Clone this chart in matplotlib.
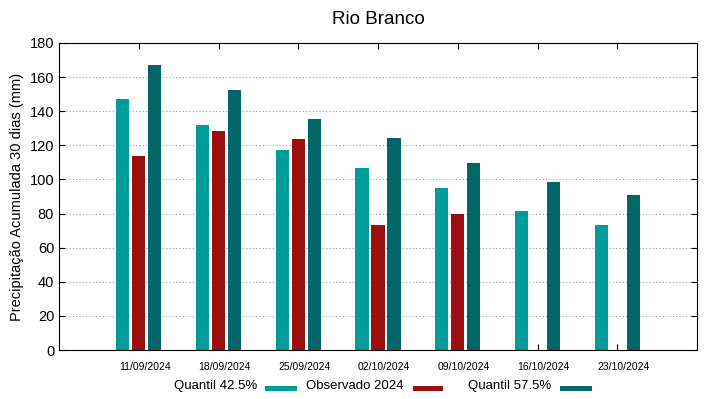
import numpy as np
import matplotlib
matplotlib.use("Agg")
import matplotlib.pyplot as plt
from matplotlib.patches import Rectangle
from matplotlib.transforms import ScaledTranslation

plt.rcParams['font.family'] = ['Liberation Sans', 'DejaVu Sans']

datas = ["11/09/2024", "18/09/2024", "25/09/2024", "02/10/2024",
         "09/10/2024", "16/10/2024", "23/10/2024"]
q425 = [147, 132, 117, 107, 95, 81.5, 73]
obs2024 = [114, 128.5, 123.5, 73.5, 79.5, np.nan, np.nan]
q575 = [167, 152.5, 135.5, 124.5, 109.5, 98.5, 91]

nomes = ['Quantil 42.5%', 'Observado 2024', 'Quantil 57.5%']
cores = ['#009b9b', '#9b0f0f', '#006666']

W, H = 719, 399
fig = plt.figure(figsize=(W / 100, H / 100), dpi=100)
ax = fig.add_axes([59 / W, 1 - 350 / H, 638 / W, 307 / H])

x = np.arange(len(datas))
w = 0.165
for k, (serie, cor) in enumerate(zip([q425, obs2024, q575], cores)):
    ax.bar(x + (k - 1) * 0.2, serie, w, color=cor)

ax.set_xlim(-1, 7)
ax.set_ylim(0, 180)
ax.set_yticks(range(0, 181, 20))
ax.set_xticks(x)
ax.set_xticklabels([])
# rótulos das datas um pouco deslocados para a direita, como no gnuplot
desloc = ScaledTranslation(6 / 100, -17 / 100, fig.dpi_scale_trans)
for xi, d in zip(x, datas):
    ax.text(xi, 0, d, transform=ax.get_xaxis_transform() + desloc,
            ha='center', va='center', fontsize=7.5)
ax.tick_params(axis='y', labelsize=10.5, direction='in', right=True, length=4)
ax.tick_params(axis='x', direction='in', top=True, length=4)
ax.yaxis.grid(True, linestyle=(0, (1, 2)), color='#999999', linewidth=0.8)
ax.set_axisbelow(True)
for s in ax.spines.values():
    s.set_linewidth(0.8)

ax.set_ylabel('Precipitação Acumulada 30 dias (mm)', fontsize=10.5)
ax.set_title('Rio Branco', fontsize=13.5, pad=14)

# legenda no estilo gnuplot: texto à esquerda, amostra à direita
fim_texto = [257, 403, 551]
amostra = [(265, 297), (413, 443), (560, 592)]
for nome, cor, xt, (a0, a1) in zip(nomes, cores, fim_texto, amostra):
    fig.text(xt / W, 1 - 386 / H, nome, ha='right', va='center', fontsize=9.5)
    fig.add_artist(Rectangle((a0 / W, 1 - 390.5 / H), (a1 - a0) / W, 5 / H,
                             transform=fig.transFigure, color=cor, lw=0))

fig.savefig('out.png', dpi=100)
